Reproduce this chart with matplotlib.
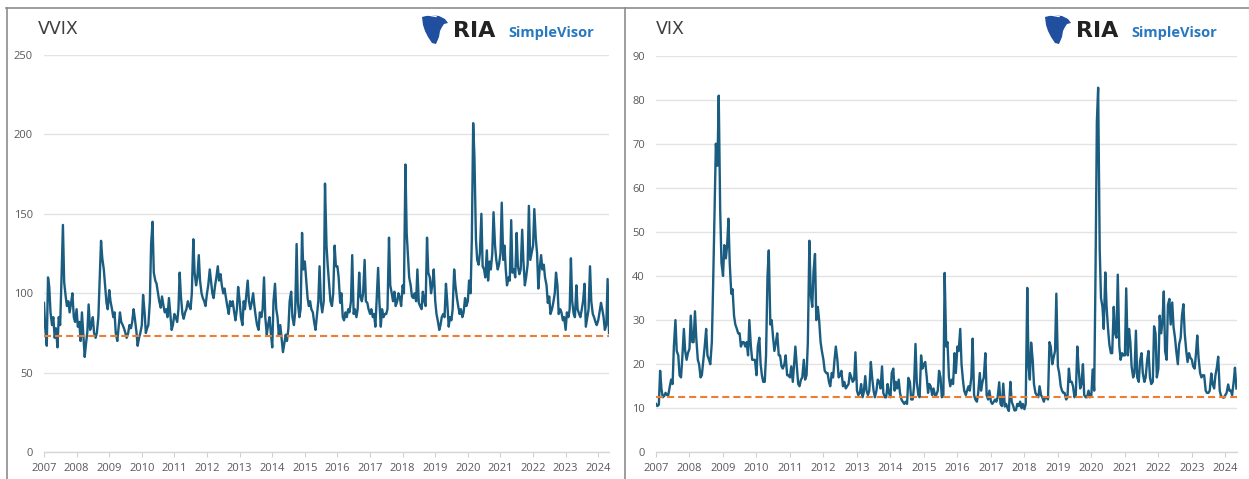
import matplotlib
matplotlib.use("Agg")
import matplotlib.pyplot as plt
import matplotlib.patches as mpatches
from matplotlib.lines import Line2D
import pandas as pd
import numpy as np

# ---------------- data (semi-monthly readings, Jan 2007 - May 2024) ----------------
vvix_2007 = [94, 78, 67, 110, 104, 88, 80, 85, 72, 78, 66, 85, 80, 107, 143, 107, 98, 92, 95, 88, 94, 100, 85, 82]
vvix_2008 = [90, 79, 82, 70, 88, 75, 60, 68, 76, 93, 77, 80, 85, 75, 72, 75, 85, 108, 133, 122, 115, 105, 94, 90]
vvix_2009 = [102, 95, 90, 85, 88, 75, 70, 78, 88, 82, 80, 78, 75, 72, 75, 80, 78, 82, 90, 84, 76, 67, 72, 75]
vvix_2010 = [80, 99, 88, 75, 78, 80, 95, 131, 145, 113, 108, 106, 100, 95, 91, 98, 92, 88, 90, 85, 97, 88, 77, 80]
vvix_2011 = [87, 85, 82, 90, 113, 98, 87, 84, 88, 90, 95, 92, 90, 100, 134, 113, 105, 110, 124, 108, 100, 97, 95, 92]
vvix_2012 = [100, 105, 115, 108, 100, 97, 105, 110, 117, 108, 112, 105, 100, 103, 97, 92, 87, 95, 92, 95, 88, 83, 90, 104]
vvix_2013 = [95, 85, 80, 95, 90, 98, 108, 95, 90, 94, 100, 92, 85, 80, 77, 88, 85, 90, 110, 85, 74, 80, 85, 76]
vvix_2014 = [66, 95, 106, 90, 85, 74, 80, 72, 63, 68, 74, 70, 78, 95, 101, 85, 80, 88, 131, 94, 85, 90, 138, 115]
vvix_2015 = [120, 110, 97, 92, 95, 90, 88, 82, 77, 85, 95, 117, 94, 88, 95, 169, 130, 117, 105, 95, 92, 100, 130, 117]
vvix_2016 = [117, 110, 94, 100, 85, 83, 88, 85, 90, 88, 95, 124, 87, 90, 85, 90, 113, 98, 95, 100, 121, 95, 94, 90]
vvix_2017 = [87, 90, 85, 87, 79, 95, 116, 95, 79, 90, 85, 87, 87, 90, 135, 105, 100, 95, 101, 92, 95, 100, 97, 92]
vvix_2018 = [105, 100, 181, 138, 124, 110, 105, 98, 97, 100, 95, 115, 94, 92, 90, 101, 95, 92, 135, 113, 110, 100, 106, 115]
vvix_2019 = [95, 87, 82, 77, 80, 85, 87, 85, 106, 95, 79, 85, 83, 90, 115, 105, 97, 92, 87, 90, 85, 88, 97, 92]
vvix_2020 = [95, 108, 100, 134, 207, 186, 134, 121, 118, 125, 150, 117, 115, 110, 127, 108, 120, 115, 125, 151, 130, 121, 115, 118]
vvix_2021 = [125, 157, 121, 130, 115, 105, 110, 108, 146, 113, 115, 110, 138, 117, 112, 115, 140, 120, 105, 110, 118, 155, 121, 125]
vvix_2022 = [130, 153, 134, 125, 103, 115, 124, 115, 118, 110, 105, 94, 98, 87, 90, 94, 100, 113, 105, 87, 90, 88, 83, 85]
vvix_2023 = [77, 88, 85, 90, 122, 95, 87, 85, 105, 90, 87, 85, 90, 95, 106, 79, 85, 90, 117, 95, 87, 85, 82, 80]
vvix_2024 = [83, 88, 94, 90, 85, 77, 80, 109, 75]

vix_2007 = [11, 10.5, 10.8, 18.5, 14.5, 12.5, 12.8, 13.5, 13, 13, 15, 16.5, 15.5, 24, 30, 23, 22, 17.5, 17, 21.5, 28, 23, 21, 22.5]
vix_2008 = [23.5, 31, 25, 25, 32, 26, 21, 20, 17, 17.5, 21, 24, 28, 22, 21, 20, 25, 38, 55, 70, 65, 80.9, 55, 43]
vix_2009 = [40, 47, 44, 47, 53, 43, 36, 37, 31, 29, 28, 27, 27, 24, 25, 25, 24, 25, 22, 30, 24, 21, 21, 21]
vix_2010 = [17.5, 24, 26, 20, 17.5, 16, 16, 22, 40, 45.8, 29, 30, 26, 23, 25, 27, 22, 22, 19.5, 19, 20, 22, 17.5, 17.5]
vix_2011 = [17, 19.5, 16, 20, 24, 20, 15.5, 15, 16.5, 17, 21, 16.5, 17.5, 25, 48, 36, 33, 41, 45, 30, 33, 30, 25, 23]
vix_2012 = [21, 18.5, 18, 18, 16, 15, 18, 17, 21, 24, 21, 17, 17.5, 18.5, 15, 16, 14.5, 15, 15.5, 18, 17, 16, 16.5, 22.7]
vix_2013 = [14, 13, 13.5, 15.5, 12.5, 13.5, 17.3, 14, 13, 14, 20.5, 17, 14, 12.5, 14, 16.5, 16, 14.5, 19.5, 13.5, 12.5, 12.5, 15.5, 13.5]
vix_2014 = [12.5, 18, 19, 14, 16, 14.5, 16.5, 13.5, 12, 11.5, 11, 11.5, 11, 16.9, 16, 12, 12, 15, 24.6, 16, 13, 12.5, 22, 19]
vix_2015 = [20, 20.5, 17, 13.5, 15.5, 15, 13, 14.5, 13, 13, 14, 18.5, 17, 12.5, 13, 40.7, 24, 25, 17, 15, 16.5, 15.5, 22.5, 18]
vix_2016 = [24, 23, 28, 20, 16.5, 14, 13, 14, 15, 14, 17, 25.8, 13, 12, 11.5, 13.5, 18, 14, 16, 17, 22.5, 13, 12, 14]
vix_2017 = [11.5, 11, 11.5, 12, 11.5, 12.5, 15.9, 11, 10.5, 15.6, 10.4, 11, 10, 9.4, 16, 11.5, 10.5, 9.5, 9.6, 11, 10.5, 11.5, 10, 11]
vix_2018 = [9.8, 11, 37.3, 19.5, 16.5, 24.9, 21, 15.5, 13.5, 13, 12.5, 15, 13, 12.5, 11.5, 12.5, 12.5, 12, 25, 24, 20, 21.5, 23, 36]
vix_2019 = [19.5, 18, 15, 14, 13.5, 13.5, 12, 12.5, 19, 16, 16, 15, 12.5, 13, 24, 19, 14.5, 15.5, 20, 13, 12.5, 12.5, 14, 12.5]
vix_2020 = [13, 18.8, 14, 40, 75, 82.7, 46, 35, 33, 28, 40.8, 33, 28, 24.5, 22.5, 22.5, 33, 27, 26, 40.3, 24, 21, 22.5, 22]
vix_2021 = [22, 37.2, 22, 28, 25, 19.5, 17, 18, 27.6, 17, 16, 20.7, 22.5, 18, 16, 17, 21, 23, 17, 15.5, 16, 28.6, 27, 17]
vix_2022 = [19, 31, 27, 30, 36.5, 23, 21, 33.4, 34.8, 29, 34, 28.5, 26, 23, 20, 24.5, 26, 31, 33.6, 27, 23, 20.5, 22.5, 21.5]
vix_2023 = [21, 19.5, 19, 22.5, 26.5, 21.5, 18, 17, 17.5, 17.5, 14, 13.5, 13.5, 14, 17.9, 15.5, 14.5, 17.5, 19.3, 21.7, 14, 12.8, 12.5, 12.4]
vix_2024 = [13, 13.5, 15.4, 14, 14, 13, 16, 19.2, 14.5]

vvix_ref = 73.0
vix_ref = 12.5

years = [str(y) for y in range(2007, 2025)]

vvix = sum([vvix_2007, vvix_2008, vvix_2009, vvix_2010, vvix_2011, vvix_2012, vvix_2013,
            vvix_2014, vvix_2015, vvix_2016, vvix_2017, vvix_2018, vvix_2019, vvix_2020,
            vvix_2021, vvix_2022, vvix_2023, vvix_2024], [])
vix = sum([vix_2007, vix_2008, vix_2009, vix_2010, vix_2011, vix_2012, vix_2013,
           vix_2014, vix_2015, vix_2016, vix_2017, vix_2018, vix_2019, vix_2020,
           vix_2021, vix_2022, vix_2023, vix_2024], [])
dates = pd.date_range("2007-01-01", periods=len(vix), freq="SMS")

# ---------------- figure ----------------
W, H = 1249, 479
fig = plt.figure(figsize=(W / 100, H / 100), dpi=100)
fig.patch.set_facecolor("white")

LINE = "#1a5d80"
ORANGE = "#ED7D31"
GRID = "#e3e3e3"
TXT = "#595959"
FONT = "Open Sans"


def px(x0, y0, x1, y1):
    return [x0 / W, 1 - y1 / H, (x1 - x0) / W, (y1 - y0) / H]


def style(ax, ymax, ystep):
    ax.set_ylim(0, ymax)
    ax.set_yticks(np.arange(0, ymax + 0.1, ystep))
    ax.set_xlim(pd.Timestamp("2007-01-01"), pd.Timestamp("2024-05-04"))
    ax.set_xticks([pd.Timestamp(f"{y}-01-01") for y in years])
    ax.set_xticklabels(years)
    for s in ["top", "right", "left"]:
        ax.spines[s].set_visible(False)
    ax.spines["bottom"].set_color("#d6d6d6")
    ax.spines["bottom"].set_linewidth(1.0)
    ax.grid(axis="y", color=GRID, linewidth=1.0)
    ax.set_axisbelow(True)
    ax.tick_params(axis="x", length=3.5, width=0.8, color="#d0d0d0", pad=4,
                   labelsize=8, labelcolor=TXT)
    ax.tick_params(axis="y", length=0, pad=8, labelsize=8, labelcolor=TXT)
    for lab in ax.get_xticklabels() + ax.get_yticklabels():
        lab.set_fontfamily(FONT)


# left: VVIX
ax1 = fig.add_axes(px(44, 54.8, 609.3, 452.3))
ax1.plot(dates, vvix, color=LINE, linewidth=1.7, solid_joinstyle="round", zorder=3)
ax1.axhline(vvix_ref, color=ORANGE, linewidth=1.5, dashes=(3.4, 1.9), zorder=4)
style(ax1, 250, 50)

# right: VIX
ax2 = fig.add_axes(px(656, 55.5, 1236.7, 452.4))
ax2.plot(dates, vix, color=LINE, linewidth=1.7, solid_joinstyle="round", zorder=3)
ax2.axhline(vix_ref, color=ORANGE, linewidth=1.5, dashes=(3.4, 1.9), zorder=4)
style(ax2, 90, 10)

# titles
fig.text(38 / W, 1 - 33.5 / H, "VVIX", fontsize=12.5, color="#404040", va="baseline", ha="left")
fig.text(656 / W, 1 - 33.5 / H, "VIX", fontsize=12.5, color="#404040", va="baseline", ha="left")


# logos
def logo(x_icon):
    # stylised eagle head icon
    pts = [(0, 2), (8, 0), (17, 1), (23, 4), (26, 8), (22, 9), (20, 12), (18, 16),
           (17, 22), (14, 29), (10, 28), (6, 22), (3, 16), (1, 10)]
    poly = [((x_icon + a) / W, 1 - (15 + b) / H) for a, b in pts]
    fig.patches.append(mpatches.Polygon(poly, closed=True, transform=fig.transFigure,
                                        facecolor="#1f4f9e", edgecolor="none"))
    for k in range(3):
        y = 5 + k * 4.5
        fig.lines.append(Line2D([(x_icon + 0.5) / W, (x_icon + 12 + k) / W],
                                [1 - y / H, 1 - (y + 2.5) / H], transform=fig.transFigure,
                                color="white", linewidth=1.0))
    fig.text((x_icon + 31) / W, 1 - 37 / H, "RIA", fontsize=16, fontweight="bold",
             color="#222222", va="baseline", ha="left")
    fig.text((x_icon + 86) / W, 1 - 37 / H, "SimpleVisor", fontsize=10.5, fontweight="bold",
             family=FONT, color="#2878c0", va="baseline", ha="left")


logo(422)
logo(1045)

# frames
fc = "#8c8c8c"
fig.lines.append(Line2D([6 / W, 1], [1 - 7.5 / H, 1 - 7.5 / H], transform=fig.transFigure,
                        color=fc, linewidth=1.2))
fig.lines.append(Line2D([7 / W, 7 / W], [0, 1 - 7.5 / H], transform=fig.transFigure,
                        color=fc, linewidth=1.2))
fig.lines.append(Line2D([625 / W, 625 / W], [0, 1 - 7.5 / H], transform=fig.transFigure,
                        color=fc, linewidth=1.2))

fig.savefig("out.png", dpi=100, facecolor="white")
